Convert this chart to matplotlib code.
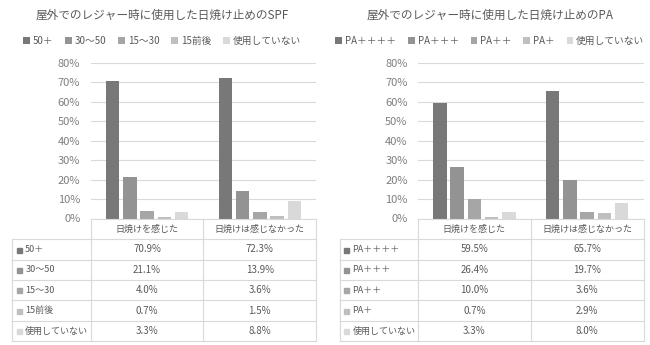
import matplotlib.pyplot as plt

plt.rcParams["font.family"] = ["Noto Sans CJK JP", "DejaVu Sans"]

W, H = 650, 345

categories = ["日焼けを感じた", "日焼けは感じなかった"]

spf_title = "屋外でのレジャー時に使用した日焼け止めのSPF"
spf_labels = ["50＋", "30～50", "15～30", "15前後", "使用していない"]
spf_felt = [70.9, 21.1, 4.0, 0.7, 3.3]
spf_not_felt = [72.3, 13.9, 3.6, 1.5, 8.8]

pa_title = "屋外でのレジャー時に使用した日焼け止めのPA"
pa_labels = ["PA＋＋＋＋", "PA＋＋＋", "PA＋＋", "PA＋", "使用していない"]
pa_felt = [59.5, 26.4, 10.0, 0.7, 3.3]
pa_not_felt = [65.7, 19.7, 3.6, 2.9, 8.0]

yticks = [0, 10, 20, 30, 40, 50, 60, 70, 80]

bar_colors = ["#787878", "#939393", "#a6a6a6", "#bfbfbf", "#d9d9d9"]
text_color = "#595959"
line_color = "#d9d9d9"


def draw_panel(fig, x0, title, labels, felt, not_felt, cx):
    # chart area (pixel layout of the reference)
    ax = fig.add_axes([x0 / W, (H - 218.5) / H, 225.5 / W, 155.5 / H])
    x = range(len(categories))
    for i, (lab, a, b, c) in enumerate(zip(labels, felt, not_felt, bar_colors)):
        ax.bar([k + (i - 2) * 0.153 for k in x], [a, b], width=0.12,
               color=c, label=lab, zorder=3)
    ax.set_xlim(-0.5, 1.5)
    ax.set_ylim(0, 80)
    ax.set_yticks(yticks)
    ax.set_yticklabels([f"{t}%" for t in yticks])
    ax.set_xticks([])
    ax.grid(axis="y", color=line_color, linewidth=0.8, zorder=0)
    for s in ax.spines.values():
        s.set_visible(False)
    ax.tick_params(axis="y", length=0, pad=7.5, labelsize=8, labelcolor="#7f7f7f")

    # data table under the chart
    lab_w = 0.695
    x_lab = -0.5 - lab_w
    tx = fig.add_axes([(x0 - 78.5) / W, 4 / H, (225.5 + 78.5) / W, 122 / H])
    tx.set_xlim(x_lab, 1.5)
    tx.set_ylim(6, 0)
    tx.axis("off")
    kw = dict(color=line_color, linewidth=0.8, clip_on=False)
    tx.plot([-0.5, 1.5], [0, 0], **kw)
    for r in range(1, 7):
        tx.plot([x_lab, 1.5], [r, r], **kw)
    tx.plot([x_lab] * 2, [1, 6], **kw)
    for xv in (-0.5, 0.5, 1.5):
        tx.plot([xv, xv], [0, 6], **kw)

    for k, cat in enumerate(categories):
        tx.text(k, 0.5, cat, ha="center", va="center", fontsize=6.5, color=text_color)
    for i, (lab, a, b, c) in enumerate(zip(labels, felt, not_felt, bar_colors)):
        y = i + 1.5
        tx.plot([x_lab + 0.062], [y], marker="s", markersize=3.6, color=c,
                linestyle="none")
        tx.text(x_lab + 0.115, y, lab, ha="left", va="center",
                fontsize=6.5, color=text_color)
        tx.text(0, y, f"{a:.1f}%", ha="center", va="center", fontsize=7, color=text_color)
        tx.text(1, y, f"{b:.1f}%", ha="center", va="center", fontsize=7, color=text_color)

    handles, names = ax.get_legend_handles_labels()
    fig.legend(handles, names, loc="center", bbox_to_anchor=(cx / W, 1 - 41 / H),
               ncol=5, frameon=False, fontsize=7, handlelength=0.7,
               handleheight=0.7, handletextpad=0.3, columnspacing=1.2,
               labelcolor=text_color)

    fig.text(cx / W, 1 - 15 / H, title, ha="center", va="center",
             fontsize=8.4, color=text_color)


fig = plt.figure(figsize=(6.5, 3.45), dpi=100)
draw_panel(fig, 90.7, spf_title, spf_labels, spf_felt, spf_not_felt, 162)
draw_panel(fig, 418, pa_title, pa_labels, pa_felt, pa_not_felt, 490)

plt.savefig("out.png", dpi=100, facecolor="white", edgecolor="none")
plt.close()
